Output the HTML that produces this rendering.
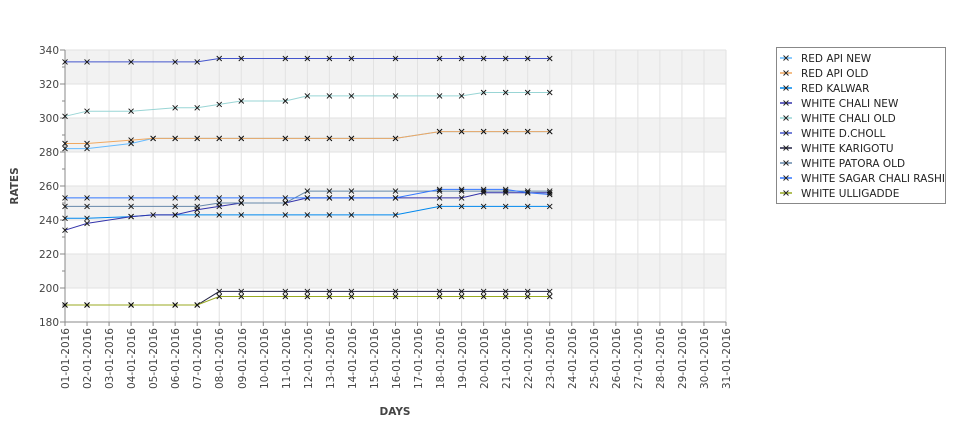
<!DOCTYPE html>
<html><head><meta charset="utf-8"><style>
html,body{margin:0;padding:0;background:#fff;width:975px;height:429px;overflow:hidden}
svg{display:block;font-family:"DejaVu Sans","Liberation Sans",sans-serif}
</style></head><body>
<svg id="s" width="975" height="429" xmlns="http://www.w3.org/2000/svg">
<g id="bg"></g>
<g id="series"></g>
<g font-size="10.5" fill="#444" text-anchor="end">
<text x="59" y="54">340</text><text x="59" y="122">300</text><text x="59" y="88">320</text>
<text x="59" y="156">280</text><text x="59" y="190">260</text><text x="59" y="224">240</text>
<text x="59" y="258">220</text><text x="59" y="292">200</text><text x="59" y="326">180</text>
</g>
<g id="xl" font-size="10.5" fill="#444" text-anchor="end">
<text transform="translate(69,328) rotate(-90)">01-01-2016</text>
<text transform="translate(91,328) rotate(-90)">02-01-2016</text>
<text transform="translate(113,328) rotate(-90)">03-01-2016</text>
<text transform="translate(135,328) rotate(-90)">04-01-2016</text>
<text transform="translate(157,328) rotate(-90)">05-01-2016</text>
<text transform="translate(179,328) rotate(-90)">06-01-2016</text>
<text transform="translate(201,328) rotate(-90)">07-01-2016</text>
<text transform="translate(223,328) rotate(-90)">08-01-2016</text>
<text transform="translate(246,328) rotate(-90)">09-01-2016</text>
<text transform="translate(268,328) rotate(-90)">10-01-2016</text>
<text transform="translate(290,328) rotate(-90)">11-01-2016</text>
<text transform="translate(312,328) rotate(-90)">12-01-2016</text>
<text transform="translate(334,328) rotate(-90)">13-01-2016</text>
<text transform="translate(356,328) rotate(-90)">14-01-2016</text>
<text transform="translate(378,328) rotate(-90)">15-01-2016</text>
<text transform="translate(400,328) rotate(-90)">16-01-2016</text>
<text transform="translate(422,328) rotate(-90)">17-01-2016</text>
<text transform="translate(444,328) rotate(-90)">18-01-2016</text>
<text transform="translate(466,328) rotate(-90)">19-01-2016</text>
<text transform="translate(488,328) rotate(-90)">20-01-2016</text>
<text transform="translate(510,328) rotate(-90)">21-01-2016</text>
<text transform="translate(532,328) rotate(-90)">22-01-2016</text>
<text transform="translate(554,328) rotate(-90)">23-01-2016</text>
<text transform="translate(576,328) rotate(-90)">24-01-2016</text>
<text transform="translate(598,328) rotate(-90)">25-01-2016</text>
<text transform="translate(620,328) rotate(-90)">26-01-2016</text>
<text transform="translate(642,328) rotate(-90)">27-01-2016</text>
<text transform="translate(664,328) rotate(-90)">28-01-2016</text>
<text transform="translate(686,328) rotate(-90)">29-01-2016</text>
<text transform="translate(708,328) rotate(-90)">30-01-2016</text>
<text transform="translate(730,328) rotate(-90)">31-01-2016</text>
</g>
<text x="395" y="415" font-size="10.5" font-weight="bold" fill="#444" text-anchor="middle">DAYS</text>
<text transform="translate(18,186) rotate(-90)" font-size="10.5" font-weight="bold" fill="#444" text-anchor="middle">RATES</text>
<rect x="776.5" y="47.5" width="169" height="156" fill="#fff" stroke="#888"/>
<g font-size="10.5" fill="#222">
<text x="801" y="62">RED API NEW</text>
<text x="801" y="77">RED API OLD</text>
<text x="801" y="92">RED KALWAR</text>
<text x="801" y="107">WHITE CHALI NEW</text>
<text x="801" y="122">WHITE CHALI OLD</text>
<text x="801" y="137">WHITE D.CHOLL</text>
<text x="801" y="152">WHITE KARIGOTU</text>
<text x="801" y="167">WHITE PATORA OLD</text>
<text x="801" y="182">WHITE SAGAR CHALI RASHI</text>
<text x="801" y="197">WHITE ULLIGADDE</text>
</g>
<g id="leg"></g>
</svg>
<script>
var NS="http://www.w3.org/2000/svg";
function el(p,t,a){var e=document.createElementNS(NS,t);for(var k in a)e.setAttribute(k,a[k]);p.appendChild(e);return e;}
var X=function(d){return 65+d*22.033;},Y=function(v){return 50+(340-v)*1.7;};
var bg=document.getElementById('bg');
el(bg,'rect',{x:65,y:50,width:661,height:272,fill:'#fff'});
[[340,320],[300,280],[260,240],[220,200]].forEach(function(b){el(bg,'rect',{x:65,y:Y(b[0]),width:661,height:34,fill:'#f2f2f2'});});
for(var d=0;d<=30;d++)el(bg,'line',{x1:X(d),x2:X(d),y1:50,y2:322,stroke:'#e2e2e2','stroke-width':1});
for(var v=180;v<=340;v+=20)el(bg,'line',{x1:65,x2:726,y1:Y(v),y2:Y(v),stroke:'#e2e2e2','stroke-width':1});
el(bg,'line',{x1:65,x2:65,y1:50,y2:322,stroke:'#888'});
el(bg,'line',{x1:65,x2:726,y1:322,y2:322,stroke:'#888'});
for(var v=180;v<=340;v+=10)el(bg,'line',{x1:v%20?62:60,x2:65,y1:Y(v),y2:Y(v),stroke:'#888'});
for(var d=0;d<=30;d++)el(bg,'line',{x1:X(d),x2:X(d),y1:322,y2:326,stroke:'#888'});
var D=[0,1,3,4,5,6,7,8,10,11,12,13,15,17,18,19,20,21,22];
var S=[
['#66bbff',[282,282,285,288,288,288,288,288,288,288,288,288,288,292,292,292,292,292,292]],
['#f0a860',[285,285,287,288,288,288,288,288,288,288,288,288,288,292,292,292,292,292,292]],
['#0088ee',[241,241,242,243,243,243,243,243,243,243,243,243,243,248,248,248,248,248,248]],
['#3333aa',[234,238,242,243,243,246,248,250,250,253,253,253,253,253,253,256,256,256,256]],
['#99d5d5',[301,304,304,305,306,306,308,310,310,313,313,313,313,313,313,315,315,315,315]],
['#4455cc',[333,333,333,333,333,333,335,335,335,335,335,335,335,335,335,335,335,335,335]],
['#222244',[190,190,190,190,190,190,198,198,198,198,198,198,198,198,198,198,198,198,198]],
['#6688aa',[248,248,248,248,248,248,250,250,250,257,257,257,257,257,257,257,257,257,257]],
['#3377ff',[253,253,253,253,253,253,253,253,253,253,253,253,253,258,258,258,258,256,255]],
['#99aa22',[190,190,190,190,190,190,195,195,195,195,195,195,195,195,195,195,195,195,195]]];
var g=document.getElementById('series'),lg=document.getElementById('leg');
S.forEach(function(s,i){
 var pts=D.map(function(d,j){return X(d)+','+Y(s[1][j]);}).join(' ');
 el(g,'polyline',{points:pts,fill:'none',stroke:s[0],'stroke-width':1});
 var y=58+15*i;
 el(lg,'line',{x1:780,x2:792,y1:y,y2:y,stroke:s[0],'stroke-width':1.5});
 el(lg,'path',{d:'M783.5,'+(y-2.5)+'l5,5M788.5,'+(y-2.5)+'l-5,5',stroke:'#222','stroke-width':0.9});
});
S.forEach(function(s){
 D.forEach(function(d,j){ if(d==4&&s[0]!='#f0a860'&&s[0]!='#66bbff'&&s[0]!='#3333aa')return;
  var x=X(d),y=Y(s[1][j]);
  el(g,'path',{d:'M'+(x-2.5)+','+(y-2.5)+'l5,5M'+(x+2.5)+','+(y-2.5)+'l-5,5',stroke:'#111','stroke-width':0.9});
 });
});
</script>
</body></html>
